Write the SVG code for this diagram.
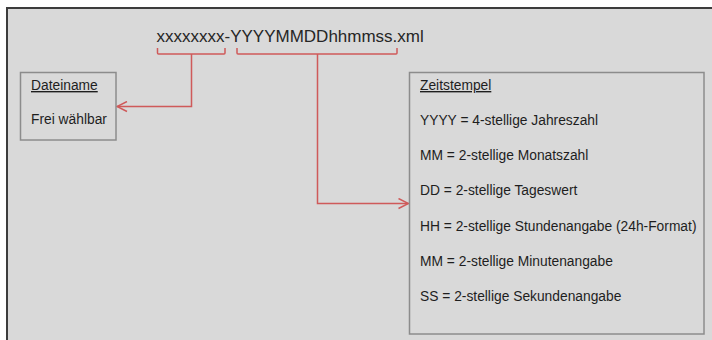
<svg xmlns="http://www.w3.org/2000/svg" width="712" height="340" viewBox="0 0 712 340">
<style>
.t{font-family:"Liberation Sans",Arial,sans-serif;font-size:13.8px;fill:#1e1e1e}
.title{font-family:"Liberation Sans",Arial,sans-serif;font-size:17px;fill:#262626}
.box{fill:none;stroke:#8c8c8c;stroke-width:1.5}
.c{fill:none;stroke:#cf5a5a;stroke-width:1.5}
</style>
<defs>
<marker id="ah" viewBox="0 0 12 12" refX="11" refY="6" markerWidth="12" markerHeight="12" markerUnits="userSpaceOnUse" orient="auto">
<path d="M1,1 L11,6 L1,11" fill="none" stroke="#cf5a5a" stroke-width="1.5"/>
</marker>
</defs>
<rect x="0" y="0" width="712" height="340" fill="#ffffff"/>
<rect x="7" y="8" width="705" height="332" fill="#d9d9d9"/>
<path d="M7,340 V8 H712" fill="none" stroke="#3c3c3c" stroke-width="2"/>
<text class="title" x="156.5" y="41.5">xxxxxxxx-YYYYMMDDhhmmss.xml</text>
<g id="connectors">
<path class="c" d="M157.5,48 V53 Q157.5,54 158.5,54 H224 Q225,54 225,53 V48"/>
<path class="c" d="M191.5,54 V106.5 H117" marker-end="url(#ah)"/>
<path class="c" d="M237,48 V53 Q237,54 238,54 H396 Q397,54 397,53 V48"/>
<path class="c" d="M317.5,54 V203.5 H408.5" marker-end="url(#ah)"/>
</g>
<g id="dateiname">
<rect class="box" x="20.5" y="72.5" width="95.5" height="67.5"/>
<text class="t" x="31" y="90" text-decoration="underline">Dateiname</text>
<text class="t" x="31" y="124">Frei wählbar</text>
</g>
<g id="zeitstempel">
<rect class="box" x="409.5" y="72.5" width="294.5" height="261.5"/>
<text class="t" x="420" y="90" text-decoration="underline">Zeitstempel</text>
<text class="t" x="420" y="125">YYYY = 4-stellige Jahreszahl</text>
<text class="t" x="420" y="160.2">MM = 2-stellige Monatszahl</text>
<text class="t" x="420" y="195.4">DD = 2-stellige Tageswert</text>
<text class="t" x="420" y="230.5">HH = 2-stellige Stundenangabe (24h-Format)</text>
<text class="t" x="420" y="265.6">MM = 2-stellige Minutenangabe</text>
<text class="t" x="420" y="300.8">SS = 2-stellige Sekundenangabe</text>
</g>
</svg>
